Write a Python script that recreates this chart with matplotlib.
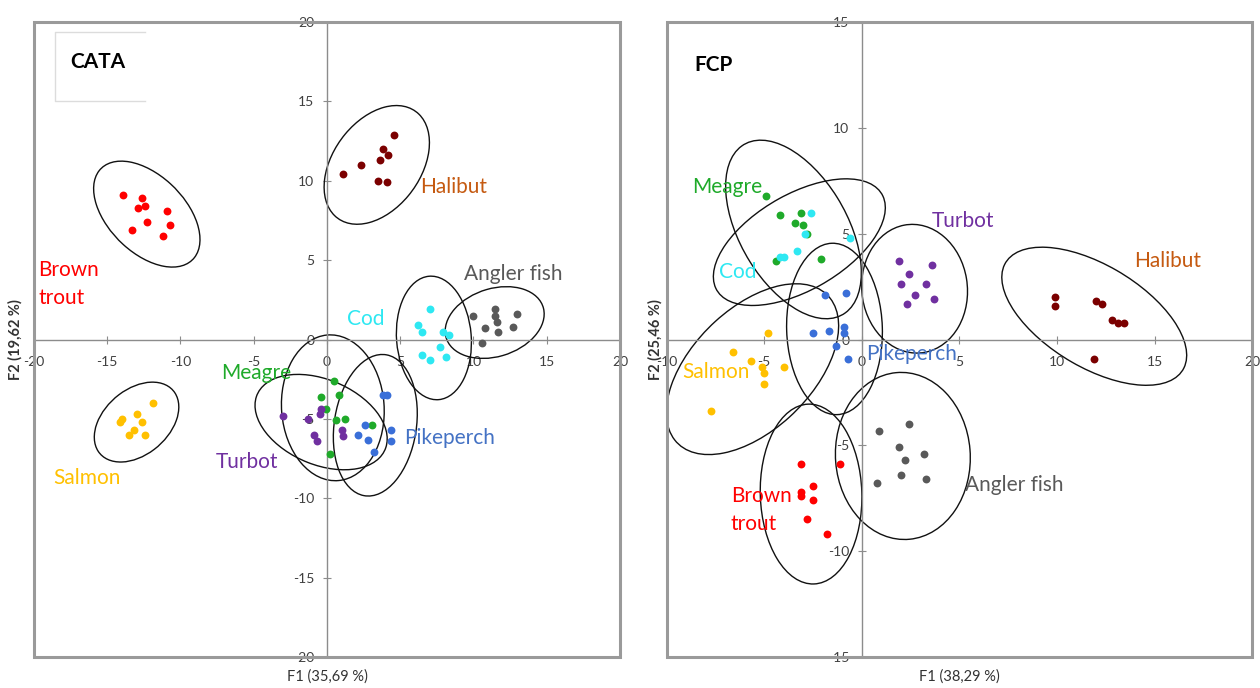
import matplotlib
matplotlib.use('Agg')
import matplotlib.pyplot as plt
from matplotlib.patches import Ellipse, Rectangle
from matplotlib.lines import Line2D

plt.rcParams['font.family'] = ['Lato', 'DejaVu Sans']
plt.rcParams['axes.unicode_minus'] = False

# ---- CATA panel ----
cata_brown_trout_x = [-13.9, -12.6, -12.9, -12.4, -10.9, -12.3, -10.7, -13.3, -11.2]
cata_brown_trout_y = [9.1, 8.9, 8.3, 8.4, 8.1, 7.4, 7.2, 6.9, 6.5]
cata_salmon_x = [-11.9, -13.0, -14.0, -14.1, -12.6, -13.2, -13.5, -12.4]
cata_salmon_y = [-4.0, -4.7, -5.0, -5.2, -5.2, -5.7, -6.0, -6.0]
cata_halibut_x = [1.1, 2.3, 4.6, 3.8, 3.6, 4.2, 3.5, 4.1]
cata_halibut_y = [10.4, 11.0, 12.9, 12.0, 11.3, 11.6, 10.0, 9.9]
cata_angler_x = [10.0, 11.5, 11.5, 13.0, 11.6, 10.8, 11.7, 12.7, 10.6]
cata_angler_y = [1.5, 1.9, 1.5, 1.6, 1.1, 0.7, 0.5, 0.8, -0.2]
cata_cod_x = [7.0, 6.2, 6.5, 7.9, 8.3, 7.7, 6.5, 7.0, 8.1]
cata_cod_y = [1.9, 0.9, 0.5, 0.5, 0.3, -0.5, -1.0, -1.3, -1.1]
cata_meagre_x = [0.5, -0.4, 0.8, -0.1, 0.6, 1.2, 3.1, 0.2]
cata_meagre_y = [-2.6, -3.6, -3.5, -4.4, -5.1, -5.0, -5.4, -7.2]
cata_turbot_x = [-3.0, -1.3, -0.4, -0.5, -0.9, -0.7, 1.0, 1.1]
cata_turbot_y = [-4.8, -5.0, -4.4, -4.7, -6.0, -6.4, -5.7, -6.1]
cata_pikeperch_x = [3.8, 4.1, 2.6, 2.1, 2.8, 3.2, 4.4, 4.4]
cata_pikeperch_y = [-3.5, -3.5, -5.4, -6.0, -6.3, -7.1, -5.7, -6.4]

# confidence ellipses: centre x, centre y, width, height, angle
cata_ell_brown_trout = (-12.3, 7.9, 8.5, 5.0, -40)
cata_ell_salmon = (-13.0, -5.2, 6.4, 4.2, 35)
cata_ell_halibut = (3.4, 11.0, 8.6, 5.8, 48)
cata_ell_angler = (11.45, 1.07, 6.9, 4.3, 15)
cata_ell_cod = (7.3, 0.1, 7.8, 5.1, 95)
cata_ell_meagre = (0.4, -4.3, 9.2, 7.0, 95)
cata_ell_turbot = (-0.4, -5.2, 9.4, 5.4, -20)
cata_ell_pikeperch = (3.3, -5.4, 9.0, 5.6, 80)

# ---- FCP panel ----
fcp_meagre_x = [-4.9, -4.2, -3.1, -3.4, -3.0, -2.8, -4.4, -2.1]
fcp_meagre_y = [6.8, 5.9, 6.0, 5.5, 5.4, 5.0, 3.7, 3.8]
fcp_cod_x = [-2.6, -2.9, -3.3, -4.2, -4.0, -0.6]
fcp_cod_y = [6.0, 5.0, 4.2, 3.9, 3.9, 4.8]
fcp_turbot_x = [1.9, 2.4, 3.6, 2.0, 3.3, 2.7, 2.3, 3.7]
fcp_turbot_y = [3.7, 3.1, 3.5, 2.6, 2.6, 2.1, 1.7, 1.9]
fcp_halibut_x = [9.9, 9.9, 12.0, 12.3, 12.8, 13.1, 13.4, 11.9]
fcp_halibut_y = [2.0, 1.6, 1.8, 1.7, 0.9, 0.8, 0.8, -0.9]
fcp_pikeperch_x = [-1.9, -0.8, -2.5, -1.7, -0.9, -0.9, -1.3, -0.7]
fcp_pikeperch_y = [2.1, 2.2, 0.3, 0.4, 0.6, 0.3, -0.3, -0.9]
fcp_salmon_x = [-4.8, -6.6, -5.7, -5.1, -4.0, -5.0, -5.0, -7.7]
fcp_salmon_y = [0.3, -0.6, -1.0, -1.3, -1.3, -1.6, -2.1, -3.4]
fcp_brown_trout_x = [-3.1, -1.1, -2.5, -3.1, -3.1, -2.5, -2.8, -1.8]
fcp_brown_trout_y = [-5.9, -5.9, -6.9, -7.2, -7.4, -7.6, -8.5, -9.2]
fcp_angler_x = [0.9, 2.4, 1.9, 3.2, 2.2, 2.0, 3.3, 0.8]
fcp_angler_y = [-4.3, -4.0, -5.1, -5.4, -5.7, -6.4, -6.6, -6.8]

fcp_ell_meagre = (-3.5, 5.2, 9.5, 5.4, -56)
fcp_ell_cod = (-3.2, 4.6, 9.6, 4.6, 27)
fcp_ell_turbot = (2.7, 2.4, 6.1, 5.4, 100)
fcp_ell_halibut = (11.9, 1.1, 10.4, 4.9, -28)
fcp_ell_salmon = (-5.6, -1.4, 10.4, 5.9, 40)
fcp_ell_pikeperch = (-1.4, 0.5, 8.1, 4.9, 92)
fcp_ell_brown_trout = (-2.6, -7.3, 8.5, 5.2, 92)
fcp_ell_angler = (2.1, -5.5, 7.9, 6.9, 95)

cata_xticks = [-20, -15, -10, -5, 0, 5, 10, 15, 20]
cata_yticks = [-20, -15, -10, -5, 0, 5, 10, 15, 20]
fcp_xticks = [-10, -5, 0, 5, 10, 15, 20]
fcp_yticks = [-15, -10, -5, 0, 5, 10, 15]

DOT = {'Brown trout': '#ff0000', 'Salmon': '#ffc000', 'Halibut': '#7b0000',
       'Angler fish': '#595959', 'Cod': '#2ee8f2', 'Meagre': '#1faa2a',
       'Turbot': '#7030a0', 'Pikeperch': '#3a6fd8'}
TXT = dict(DOT)
TXT['Halibut'] = '#c55a11'
TXT['Pikeperch'] = '#4472c4'

cata_groups = [
    ('Brown trout', cata_brown_trout_x, cata_brown_trout_y, cata_ell_brown_trout, (-19.7, 3.5)),
    ('Salmon', cata_salmon_x, cata_salmon_y, cata_ell_salmon, (-18.7, -8.7)),
    ('Halibut', cata_halibut_x, cata_halibut_y, cata_ell_halibut, (6.35, 9.6)),
    ('Angler fish', cata_angler_x, cata_angler_y, cata_ell_angler, (9.35, 4.15)),
    ('Cod', cata_cod_x, cata_cod_y, cata_ell_cod, (1.4, 1.3)),
    ('Meagre', cata_meagre_x, cata_meagre_y, cata_ell_meagre, (-7.2, -2.1)),
    ('Turbot', cata_turbot_x, cata_turbot_y, cata_ell_turbot, (-7.6, -7.7)),
    ('Pikeperch', cata_pikeperch_x, cata_pikeperch_y, cata_ell_pikeperch, (5.3, -6.2)),
]
fcp_groups = [
    ('Meagre', fcp_meagre_x, fcp_meagre_y, fcp_ell_meagre, (-8.7, 7.2)),
    ('Cod', fcp_cod_x, fcp_cod_y, fcp_ell_cod, (-7.3, 3.2)),
    ('Turbot', fcp_turbot_x, fcp_turbot_y, fcp_ell_turbot, (3.6, 5.6)),
    ('Halibut', fcp_halibut_x, fcp_halibut_y, fcp_ell_halibut, (13.95, 3.7)),
    ('Salmon', fcp_salmon_x, fcp_salmon_y, fcp_ell_salmon, (-9.2, -1.55)),
    ('Pikeperch', fcp_pikeperch_x, fcp_pikeperch_y, fcp_ell_pikeperch, (0.2, -0.7)),
    ('Brown trout', fcp_brown_trout_x, fcp_brown_trout_y, fcp_ell_brown_trout, (-6.7, -8.05)),
    ('Angler fish', fcp_angler_x, fcp_angler_y, fcp_ell_angler, (5.3, -6.85)),
]


def draw_panel(ax, groups, xticks, yticks, title, boxed, xlabel):
    ax.set_xlim(xticks[0], xticks[-1])
    ax.set_ylim(yticks[0], yticks[-1])
    for name, xs, ys, ell, lab in groups:
        ax.scatter(xs, ys, s=32, color=DOT[name], linewidths=0, zorder=3)
        cx, cy, w, h, ang = ell
        ax.add_patch(Ellipse((cx, cy), w, h, angle=ang, fill=False,
                             ec='#111111', lw=1.0, zorder=2))
        text = name.replace(' trout', '\ntrout')
        ax.text(lab[0], lab[1], text, color=TXT[name], fontsize=15,
                ha='left', va='center', linespacing=1.55, zorder=4)

    for s in ['top', 'right']:
        ax.spines[s].set_visible(False)
    for s in ['left', 'bottom']:
        ax.spines[s].set_position(('data', 0))
        ax.spines[s].set_color('#8c8c8c')
        ax.spines[s].set_linewidth(1.0)
    ax.set_xticks(xticks)
    ax.set_yticks(yticks)
    ax.set_xticklabels([str(t) for t in xticks])
    ax.set_yticklabels([str(t) for t in yticks])
    ax.tick_params(direction='inout', length=6, color='#8c8c8c',
                   labelsize=10, labelcolor='#404040')
    ax.tick_params(axis='x', pad=9)
    ax.tick_params(axis='y', pad=6)
    ax.add_patch(Rectangle((0, 0), 1, 1, transform=ax.transAxes, fill=False,
                           ec='#9a9a9a', lw=2.2, clip_on=False, zorder=5))

    if boxed:
        ax.add_line(Line2D([0.189, 0.036, 0.036, 0.189], [0.984, 0.984, 0.876, 0.876],
                           transform=ax.transAxes, color='#dcdcdc', lw=1.0))
        ax.text(0.061, 0.937, title, transform=ax.transAxes, fontsize=15,
                fontweight='bold', color='black', va='center')
    else:
        ax.text(0.048, 0.932, title, transform=ax.transAxes, fontsize=15,
                fontweight='bold', color='black', va='center')

    ax.text(0.5, -0.03, xlabel, transform=ax.transAxes, ha='center',
            va='center', fontsize=10.5, color='#333333')


fig = plt.figure(figsize=(12.6, 6.88), dpi=100)
ax1 = fig.add_axes([0.027, 0.045, 0.465, 0.923])
ax2 = fig.add_axes([0.529, 0.045, 0.465, 0.923])

draw_panel(ax1, cata_groups, cata_xticks, cata_yticks, 'CATA', True, 'F1 (35,69 %)')
draw_panel(ax2, fcp_groups, fcp_xticks, fcp_yticks, 'FCP', False, 'F1 (38,29 %)')

fig.text(0.012, 0.506, 'F2 (19,62 %)', rotation=90, ha='center', va='center',
         fontsize=10.5, fontweight='bold', color='#333333')
fig.text(0.52, 0.506, 'F2 (25,46 %)', rotation=90, ha='center', va='center',
         fontsize=10.5, fontweight='bold', color='#333333')

fig.savefig('out.png', dpi=100)
